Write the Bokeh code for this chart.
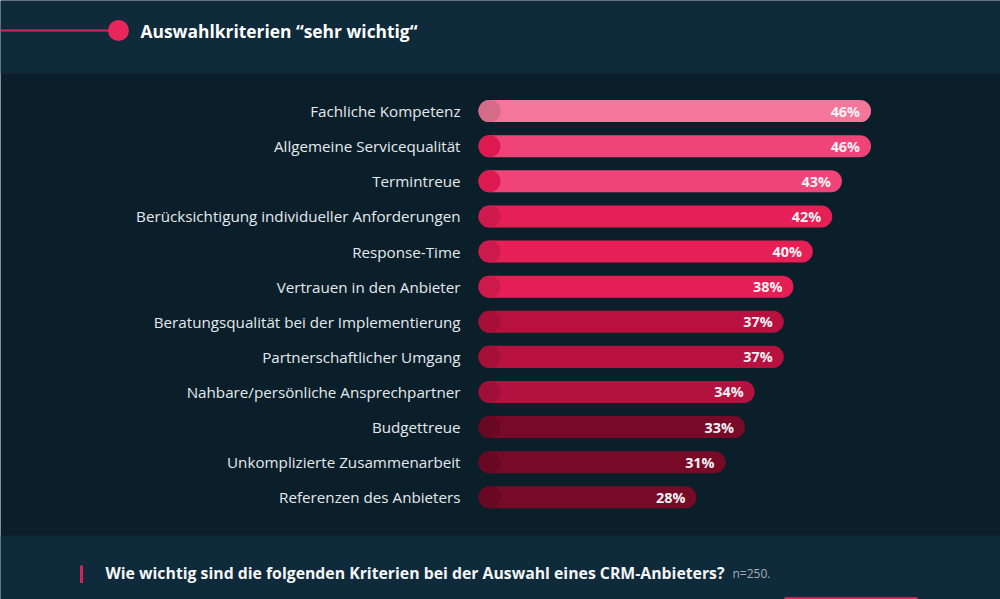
from bokeh.plotting import figure
from bokeh.models import Range1d, ColumnDataSource
from bokeh.core.properties import value
from bokeh.embed import file_html
from bokeh.resources import INLINE

# ---------------- data ----------------
categories = [
    "Fachliche Kompetenz",
    "Allgemeine Servicequalität",
    "Termintreue",
    "Berücksichtigung individueller Anforderungen",
    "Response-Time",
    "Vertrauen in den Anbieter",
    "Beratungsqualität bei der Implementierung",
    "Partnerschaftlicher Umgang",
    "Nahbare/persönliche Ansprechpartner",
    "Budgettreue",
    "Unkomplizierte Zusammenarbeit",
    "Referenzen des Anbieters",
]
values = [46, 46, 43, 42, 40, 38, 37, 37, 34, 33, 31, 28]
bar_colors = ["#f4769a", "#ef4478", "#ef4478", "#e71f57", "#e61f56", "#e51e55",
              "#b9113f", "#b9113f", "#b3113e", "#770a27", "#770a27", "#770a27"]
dot_colors = ["#d46b89", "#dd1a50", "#dd1a50", "#cf1a4d", "#cd1a4c", "#cc1a4b",
              "#a50f38", "#a50f38", "#a00f37", "#690823", "#690823", "#690823"]
title = "Auswahlkriterien \u201csehr wichtig\u201c"
question = "Wie wichtig sind die folgenden Kriterien bei der Auswahl eines CRM-Anbieters?"
sample = "n=250."

HEADER_BG = "#0f2a3a"
MAIN_BG = "#0b1f2a"
PINK = "#e8265b"
FONT = value("Open Sans")
W, H = 1000, 599

# value scale (percent): bars start at BAR_START, pixel 478 <-> BAR_START
BAR_START = 5.53
PCT_PER_PX = 1 / 9.70
PCT_MIN = BAR_START - 478 * PCT_PER_PX
PCT_MAX = BAR_START + (W - 478) * PCT_PER_PX

# row scale: row index; row 0 centre at 110.6 px from top, 35.11 px per row
ROW_TOP = -110.6 / 35.11
ROW_BOTTOM = (H - 110.6) / 35.11

rows = list(range(len(categories)))
src = ColumnDataSource(dict(
    cat=categories, row=rows, val=values, bar=bar_colors, dot=dot_colors,
    lbl=[f"{v}%" for v in values],
    base=[BAR_START] * len(values),
    dotx=[BAR_START + 11 * PCT_PER_PX] * len(values),
))

p = figure(width=W, height=H,
           x_range=Range1d(0, W), y_range=Range1d(H, 0),
           output_backend="svg", toolbar_location=None,
           x_axis_location=None, y_axis_location=None,
           min_border=0, min_border_left=0, min_border_right=0,
           min_border_top=0, min_border_bottom=0)
p.extra_x_ranges = {"pct": Range1d(PCT_MIN, PCT_MAX)}
p.extra_y_ranges = {"rows": Range1d(ROW_BOTTOM, ROW_TOP)}
p.background_fill_color = MAIN_BG
p.border_fill_color = MAIN_BG
p.outline_line_color = None
p.grid.visible = False

# header / footer bands
p.quad(left=[0, 0], right=[W, W], top=[0, 535], bottom=[73, H],
       fill_color=HEADER_BG, line_color=None)

# header
p.line([0, 110], [30, 30], line_color="#d82458", line_width=2)
p.scatter([118], [30], size=21, marker="circle", fill_color=PINK, line_color=None)
p.text([140], [30], text=[title], text_font=FONT, text_font_style="bold",
       text_font_size="17.4px", text_color="#ffffff", text_baseline="middle",
       text_align="left")

# bars
p.hbar(y="row", left="base", right="val", height=0.627, source=src,
       fill_color="bar", line_color=None, border_radius=11,
       x_range_name="pct", y_range_name="rows")
p.scatter(x="dotx", y="row", size=22, marker="circle", source=src,
          fill_color="dot", line_color=None,
          x_range_name="pct", y_range_name="rows")
p.text(x="val", y="row", text="lbl", source=src, x_offset=-11,
       text_align="right", text_baseline="middle", text_font=FONT,
       text_font_style="bold", text_font_size="14.4px", text_color="#f8f0f3",
       x_range_name="pct", y_range_name="rows")

# category labels
p.text(x=460, y="row", text="cat", source=src,
       text_align="right", text_baseline="middle", text_font=FONT,
       text_font_size="15.2px", text_color="#e4e9ed", y_range_name="rows")

# footer
p.segment([81], [565], [81], [582.5], line_color="#d3245a", line_width=3)
p.text([105], [572], text=[question], text_font=FONT, text_font_style="bold",
       text_font_size="15.8px", text_color="#f4f6f8", text_baseline="middle",
       text_align="left")
p.text([732], [573], text=[sample], text_font=FONT, text_font_size="12px",
       text_color="#a3afb7", text_baseline="middle", text_align="left")
p.quad(left=[784], right=[917], top=[596.7], bottom=[H], fill_color=PINK,
       line_color=None)

open("out.html", "w").write(file_html(p, INLINE))
